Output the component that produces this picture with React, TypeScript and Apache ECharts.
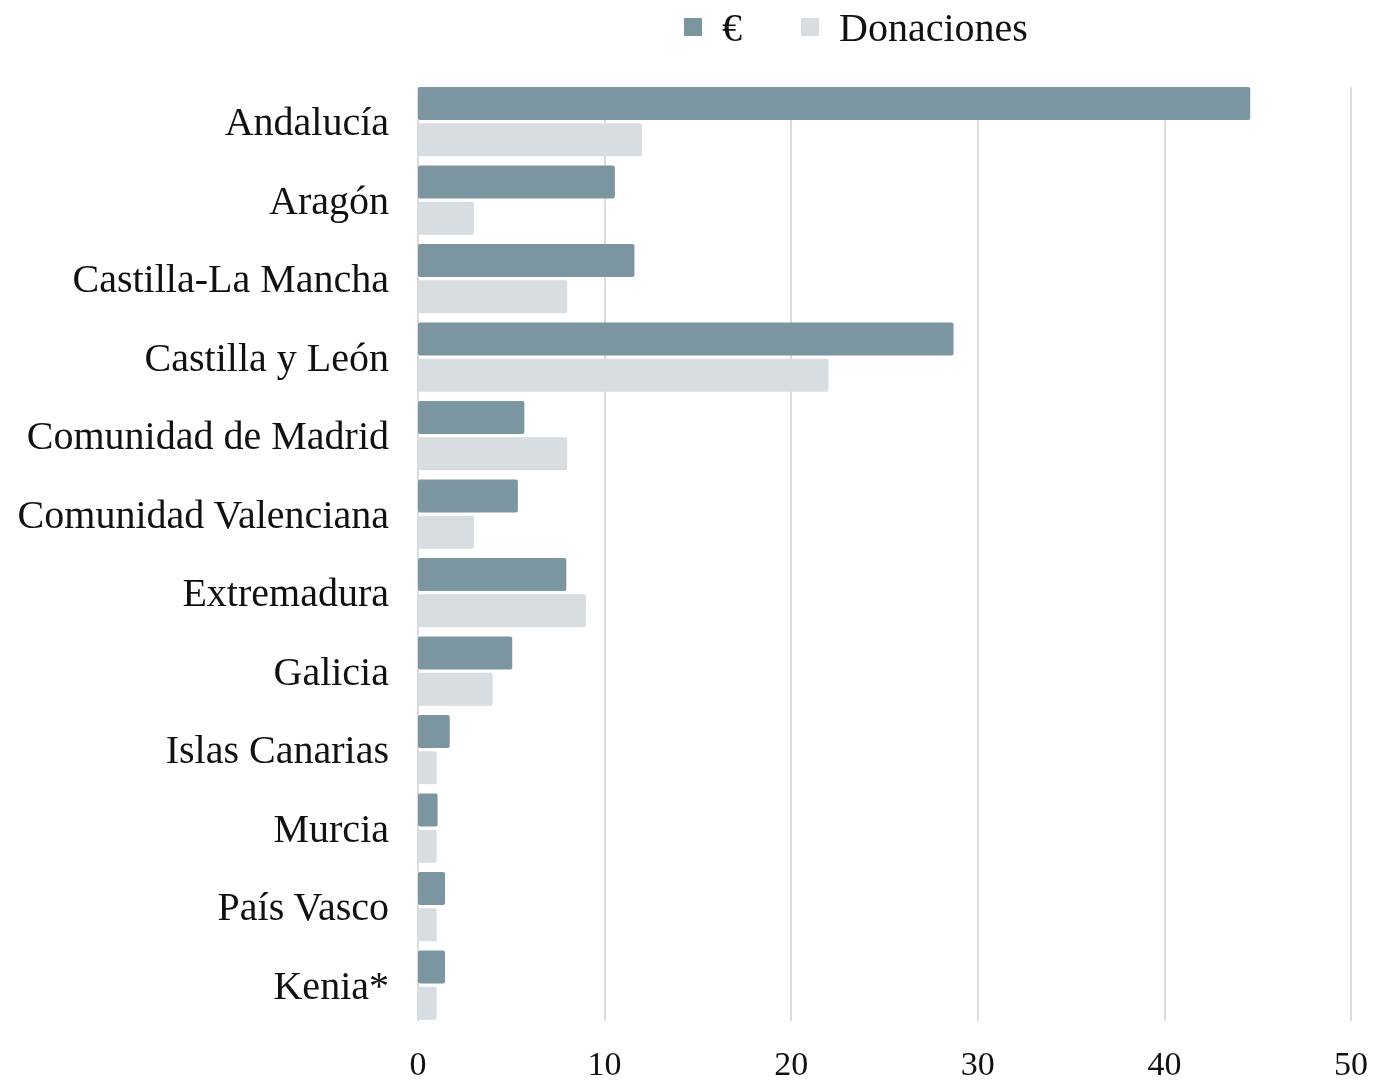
import React, { useEffect, useRef } from "react";
import * as echarts from "echarts";

const categories = [
  "Andalucía",
  "Aragón",
  "Castilla-La Mancha",
  "Castilla y León",
  "Comunidad de Madrid",
  "Comunidad Valenciana",
  "Extremadura",
  "Galicia",
  "Islas Canarias",
  "Murcia",
  "País Vasco",
  "Kenia*",
];
const euros = [44.6, 10.55, 11.6, 28.7, 5.7, 5.35, 7.95, 5.05, 1.7, 1.05, 1.45, 1.45];
const donaciones = [12, 3, 8, 22, 8, 3, 9, 4, 1, 1, 1, 1];
const xTicks = { min: 0, max: 50, interval: 10 };

const FONT = "Liberation Serif";

export default function App() {
  const ref = useRef<HTMLDivElement>(null);
  useEffect(() => {
    const chart = echarts.init(ref.current!, null, { renderer: "svg" });
    chart.setOption({
      animation: false,
      legend: {
        data: ["€", "Donaciones"],
        left: 679,
        top: 2,
        itemWidth: 18,
        itemHeight: 18,
        itemGap: 59,
        icon: "rect",
        textStyle: { fontFamily: FONT, fontSize: 40, color: "#111", padding: [0, 0, 0, 15] },
      },
      grid: [
        { left: 418, top: 82.4, width: 933, height: 942, containLabel: false },
        { left: 418, top: 87, width: 933, height: 934, containLabel: false },
      ],
      xAxis: [
        {
          type: "value",
          gridIndex: 0,
          min: xTicks.min,
          max: xTicks.max,
          interval: xTicks.interval,
          axisLine: { show: false },
          axisTick: { show: false },
          splitLine: { show: false },
          axisLabel: {
            fontFamily: FONT,
            fontSize: 34,
            lineHeight: 34,
            color: "#111",
            margin: 22,
          },
        },
        {
          type: "value",
          gridIndex: 1,
          min: xTicks.min,
          max: xTicks.max,
          interval: xTicks.interval,
          axisLine: { show: false },
          axisTick: { show: false },
          axisLabel: { show: false },
          splitLine: { show: true, lineStyle: { color: "#d0d0d0", width: 1.5 } },
        },
      ],
      yAxis: [
        {
          type: "category",
          gridIndex: 0,
          inverse: true,
          data: categories,
          axisLine: { show: false },
          axisTick: { show: false },
          axisLabel: { fontFamily: FONT, fontSize: 40, color: "#111", margin: 29 },
          z: 3,
        },
        {
          type: "category",
          gridIndex: 1,
          data: categories,
          show: false,
        },
      ],
      series: [
        {
          name: "€",
          type: "bar",
          xAxisIndex: 0,
          yAxisIndex: 0,
          data: euros,
          barWidth: 33,
          barGap: "10%",
          z: 3,
          itemStyle: { color: "#7b95a1", borderRadius: 2 },
        },
        {
          name: "Donaciones",
          type: "bar",
          xAxisIndex: 0,
          yAxisIndex: 0,
          data: donaciones,
          barWidth: 33,
          barGap: "10%",
          z: 3,
          itemStyle: { color: "#d8dde1", borderRadius: 2 },
        },
      ],
    });
    return () => chart.dispose();
  }, []);
  return (
    <div
      ref={ref}
      style={{ position: "fixed", left: 0, top: 0, width: 1376, height: 1081 }}
    />
  );
}
